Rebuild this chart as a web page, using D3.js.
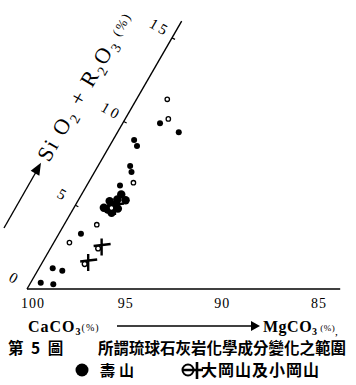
<!DOCTYPE html>
<html>
<head>
<meta charset="utf-8">
<script src="https://cdn.jsdelivr.net/npm/d3@7"></script>
<style>
  html, body { margin: 0; padding: 0; background: #fff; }
  svg { display: block; }
</style>
</head>
<body>
<svg id="chart"></svg>
<script>
// CaCO3 axis tick labels (MgCO3 = 100 - CaCO3)
const caTicks = [100, 95, 90, 85];
// SiO2+R2O3 axis ticks
const siTicks = [0, 5, 10, 15];

// 壽山 samples : [MgCO3 %, SiO2+R2O3 %]
const shouFilled = [
  [0.52, 0.38], [1.22, 0.28], [0.71, 1.24], [1.28, 1.09], [1.14, 3.30],
  [1.72, 6.18], [1.66, 7.35], [1.91, 6.99], [1.09, 8.90], [1.42, 8.54],
  [1.93, 9.90], [3.17, 9.36]
];
// 壽山 cluster around 5 %
const shouCluster = [
  [1.80, 4.75], [2.30, 4.80], [2.00, 5.35], [1.65, 5.25], [2.45, 5.30],
  [2.10, 4.55], [2.05, 5.65], [1.55, 4.85], [2.04, 5.02]
];
const shouOpen = [
  [0.81, 2.77], [1.69, 3.84], [2.33, 6.35], [2.23, 10.16], [1.59, 11.33]
];
// 大岡山及小岡山 samples
const gangshan = [[2.56, 2.60], [2.33, 1.67], [2.04, 5.02]];

const W = 356, H = 385;
const svg = d3.select('#chart').attr('width', W).attr('height', H).attr('viewBox', [0, 0, W, H]);

const origin = { x: 27, y: 289 };
const s = d3.scaleLinear([0, 15], [0, 290]);
const cos60 = 0.5, sin60 = Math.sqrt(3) / 2;
const px = (mg, si) => origin.x + s(mg) + s(si) * cos60;
const py = (mg, si) => origin.y - s(si) * sin60;

const serif = "'Liberation Serif', 'DejaVu Serif', serif";
const cjk = "'Noto Sans CJK TC', 'Noto Sans CJK SC', sans-serif";

/**
 * axes
 */
const axes = svg.append('g').attr('stroke', '#000').attr('fill', 'none');
axes.append('line')
  .attr('x1', origin.x).attr('y1', origin.y)
  .attr('x2', px(16.2, 0)).attr('y2', origin.y)
  .attr('stroke-width', 1.6);
axes.append('line')
  .attr('x1', origin.x).attr('y1', origin.y)
  .attr('x2', px(0, 16)).attr('y2', py(0, 16))
  .attr('stroke-width', 1.4);

// small ticks on the diagonal
axes.selectAll('.sitick')
  .data(siTicks.slice(1))
  .join('line')
  .attr('x1', (d) => px(0, d)).attr('y1', (d) => py(0, d))
  .attr('x2', (d) => px(0, d) + 3).attr('y2', (d) => py(0, d) + 1.5)
  .attr('stroke-width', 1.2);

// x tick labels
svg.append('g')
  .selectAll('text')
  .data(caTicks)
  .join('text')
  .attr('x', (d) => px(100 - d, 0) - 6)
  .attr('y', 308)
  .attr('font-family', serif)
  .attr('font-size', 14)
  .attr('letter-spacing', 1)
  .text((d) => d);

// diagonal tick labels
svg.append('g')
  .selectAll('text')
  .data(siTicks)
  .join('text')
  .attr('transform', (d) => `translate(${px(0, d) - 13},${py(0, d) - 9}) rotate(30)`)
  .attr('text-anchor', 'middle')
  .attr('dominant-baseline', 'middle')
  .attr('font-family', serif)
  .attr('font-size', 15)
  .attr('letter-spacing', 3)
  .text((d) => d);

// diagonal axis title + arrow
const diagTitle = svg.append('text')
  .attr('transform', `translate(${px(0, 0) + 22},${py(0, 0) - 126}) rotate(-60)`)
  .attr('font-family', serif)
  .attr('font-size', 22)
  .attr('letter-spacing', 2);
diagTitle.append('tspan').text('Si O');
diagTitle.append('tspan').text('2').attr('font-size', 14).attr('dy', 5);
diagTitle.append('tspan').text(' + R').attr('dy', -5);
diagTitle.append('tspan').text('2').attr('font-size', 14).attr('dy', 5);
diagTitle.append('tspan').text('O').attr('dy', -5);
diagTitle.append('tspan').text('3').attr('font-size', 14).attr('dy', 5);
diagTitle.append('tspan').text(' (%)').attr('font-size', 13).attr('dy', -7);

const arrowG = svg.append('g');
arrowG.append('line')
  .attr('x1', 4).attr('y1', 228).attr('x2', 36).attr('y2', 172)
  .attr('stroke', '#000').attr('stroke-width', 1.4);
arrowG.append('path')
  .attr('transform', 'translate(38,168) rotate(-60)')
  .attr('d', 'M6,0L-6,-5L-6,5Z')
  .attr('fill', '#000');

/**
 * points
 */
const pts = svg.append('g');
pts.selectAll('.f')
  .data(shouFilled)
  .join('circle')
  .attr('cx', (d) => px(d[0], d[1]))
  .attr('cy', (d) => py(d[0], d[1]))
  .attr('r', 3)
  .attr('fill', '#000');
pts.selectAll('.k')
  .data(shouCluster)
  .join('circle')
  .attr('cx', (d) => px(d[0], d[1]))
  .attr('cy', (d) => py(d[0], d[1]))
  .attr('r', 4.2)
  .attr('fill', '#000');
pts.selectAll('.o')
  .data(shouOpen)
  .join('circle')
  .attr('cx', (d) => px(d[0], d[1]))
  .attr('cy', (d) => py(d[0], d[1]))
  .attr('r', 2.2)
  .attr('fill', '#fff')
  .attr('stroke', '#000')
  .attr('stroke-width', 1.3);

const crosses = pts.selectAll('.c')
  .data(gangshan)
  .join('g')
  .attr('transform', (d) => `translate(${px(d[0], d[1])},${py(d[0], d[1])})`);
crosses.append('path')
  .attr('d', 'M-8,0.5L9,-1.5M0,-7V10')
  .attr('stroke', '#000')
  .attr('stroke-width', 2.4)
  .attr('fill', 'none');
crosses.append('circle')
  .attr('cx', -3.5).attr('cy', 3).attr('r', 2.4)
  .attr('fill', '#fff').attr('stroke', '#000').attr('stroke-width', 1.4);

/**
 * bottom labels
 */
const caLab = svg.append('text')
  .attr('x', 28).attr('y', 332)
  .attr('font-family', serif).attr('font-size', 16).attr('font-weight', 'bold')
  .attr('letter-spacing', 1);
caLab.append('tspan').text('CaCO');
caLab.append('tspan').text('3').attr('font-size', 10).attr('dy', 3);
caLab.append('tspan').text('(%)').attr('font-size', 10).attr('dy', -4).attr('font-weight', 'normal');

svg.append('line')
  .attr('x1', 117).attr('y1', 326).attr('x2', 252).attr('y2', 326)
  .attr('stroke', '#000').attr('stroke-width', 1.3);
svg.append('path')
  .attr('d', 'M251,321L260,326L251,331Z')
  .attr('fill', '#000');

const mgLab = svg.append('text')
  .attr('x', 263).attr('y', 332)
  .attr('font-family', serif).attr('font-size', 16).attr('font-weight', 'bold')
  .attr('letter-spacing', 0.5);
mgLab.append('tspan').text('MgCO');
mgLab.append('tspan').text('3').attr('font-size', 10).attr('dy', 3);
mgLab.append('tspan').text(' (%)').attr('font-size', 9).attr('dy', -4).attr('font-weight', 'normal');
mgLab.append('tspan').text(',').attr('font-size', 9).attr('dy', 4);

svg.append('text')
  .attr('x', 8).attr('y', 354)
  .attr('font-family', cjk).attr('font-size', 15.5).attr('font-weight', 'bold')
  .attr('letter-spacing', 2)
  .text('第 5 圖');
svg.append('text')
  .attr('x', 98).attr('y', 354)
  .attr('font-family', cjk).attr('font-size', 15.5).attr('font-weight', 'bold')
  .text('所謂琉球石灰岩化學成分變化之範圍');

// legend
const leg = svg.append('g');
leg.append('circle').attr('cx', 82).attr('cy', 370).attr('r', 6.5).attr('fill', '#000');
leg.append('text')
  .attr('x', 100).attr('y', 376)
  .attr('font-family', cjk).attr('font-size', 15).attr('font-weight', 'bold')
  .attr('letter-spacing', 4)
  .text('壽山');
leg.append('circle').attr('cx', 188).attr('cy', 370).attr('r', 5.5)
  .attr('fill', 'none').attr('stroke', '#000').attr('stroke-width', 2);
leg.append('path').attr('d', 'M182,370H203M197,362V379')
  .attr('stroke', '#000').attr('stroke-width', 2.6);
leg.append('text')
  .attr('x', 201).attr('y', 376)
  .attr('font-family', cjk).attr('font-size', 16).attr('font-weight', 'bold')
  .attr('letter-spacing', 1)
  .text('大岡山及小岡山');
</script>
</body>
</html>
